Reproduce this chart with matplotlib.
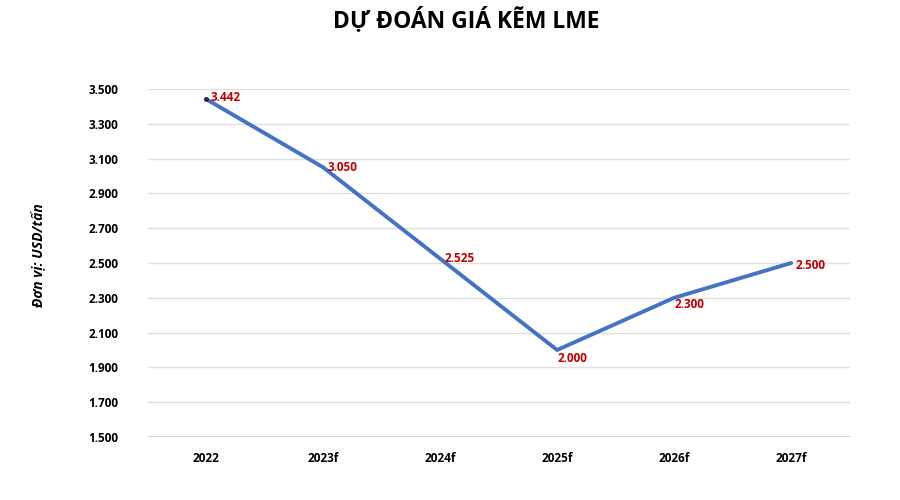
import numpy as np
import matplotlib.pyplot as plt
from matplotlib.ticker import FuncFormatter

# du lieu gia kem LME (USD/tan)
years = ["2022", "2023f", "2024f", "2025f", "2026f", "2027f"]
prices = [3442, 3050, 2525, 2000, 2300, 2500]
y_ticks = list(range(1500, 3501, 200))


def vn_format(v, pos=None):
    # dau cham la dau phan cach hang nghin
    return f"{int(v):,}".replace(",", ".")


plt.rcParams['font.family'] = ['Open Sans', 'DejaVu Sans']

fig = plt.figure(figsize=(9, 5), dpi=100)
ax = fig.add_axes([0.164, 0.126, 0.78, 0.696])

x = np.arange(len(years))
ax.plot(x, prices, color='#4472C4', lw=2.8, solid_capstyle='round', zorder=3)
ax.plot(x[0], prices[0], 'o', color='#1f2d4d', ms=2.5, zorder=4)

# nhan gia tri
offsets = [(3, 1), (3, 0), (3, 0), (0, -6), (0, -5), (3, -2)]
for i, v in enumerate(prices):
    ax.annotate(vn_format(v), (x[i], v), xytext=offsets[i], textcoords='offset points',
                ha='left', va='center', color='#C00000', fontsize=8.5, fontweight='bold')

ax.set_xlim(-0.5, len(years) - 0.5)
ax.set_ylim(1500, 3500)
ax.set_yticks(y_ticks)
ax.yaxis.set_major_formatter(FuncFormatter(vn_format))
ax.set_xticks(x)
ax.set_xticklabels(years)
ax.tick_params(length=0, labelsize=8.5, pad=11)
ax.tick_params(axis='y', pad=21)
for lab in ax.get_xticklabels() + ax.get_yticklabels():
    lab.set_fontweight('bold')

ax.grid(axis='y', color='#e0e0e0', lw=1)
ax.set_axisbelow(True)
for s in ax.spines.values():
    s.set_visible(False)
ax.axhline(1500, color='#c8c8c8', lw=1.2, zorder=1)

fig.text(0.518, 0.96, "DỰ ĐOÁN GIÁ KẼM LME", ha='center', va='center',
         fontsize=16.5, fontweight='bold')
fig.text(0.042, 0.49, "Đơn vị: USD/tấn", ha='center', va='center', rotation=90,
         fontsize=10, fontweight='bold', fontstyle='italic')

fig.savefig("out.png", dpi=100, facecolor='white')
